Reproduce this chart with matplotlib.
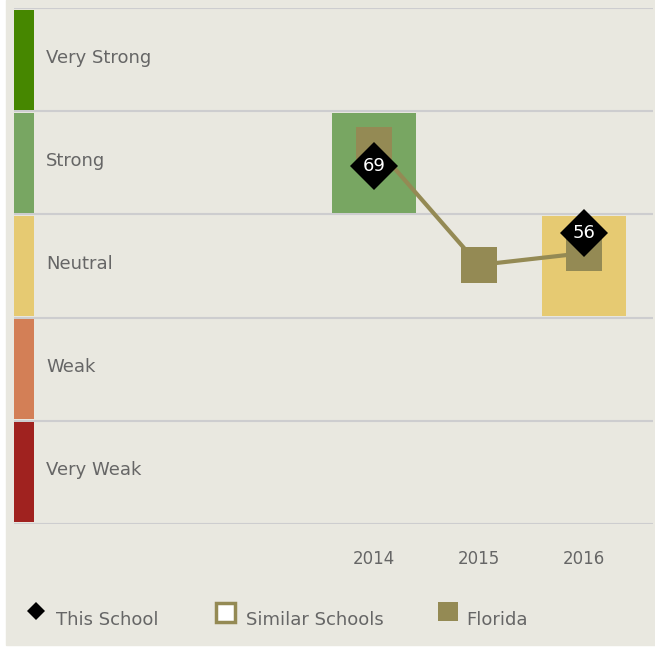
import matplotlib.pyplot as plt
from matplotlib.patches import Rectangle
from matplotlib.transforms import blended_transform_factory

# performance bands (score 0-100, 20 points each), top to bottom
levels = ["Very Strong", "Strong", "Neutral", "Weak", "Very Weak"]
level_colors = ["#468700", "#78a662", "#e6ca72", "#d37f56", "#a0221f"]
level_bottoms = [80, 60, 40, 20, 0]

years = ["2014", "2015", "2016"]
school_scores = [69, None, 56]
florida_scores = [73.5, 50.2, 52.5]

bg = "#e9e8e0"
olive = "#948a54"
grid_col = "#cdcdcf"
text_col = "#666666"

W, H = 655, 649
fig = plt.figure(figsize=(W / 100, H / 100), dpi=100, facecolor="white")
fig.patches.append(Rectangle((6 / W, 4 / H), 1 - 6 / W, 1 - 4 / H,
                             transform=fig.transFigure, color=bg, zorder=-10))

ax = fig.add_axes([14 / W, (H - 524) / H, (653 - 14) / W, (524 - 8) / H])
ax.patch.set_alpha(0)
for s in ax.spines.values():
    s.set_visible(False)
ax.set_xlim(-3.43, 2.66)
ax.set_ylim(0, 100)
ax.set_xticks([])
ax.set_yticks([])

x = list(range(len(years)))
trans = blended_transform_factory(ax.transAxes, ax.transData)

# grid lines between bands
for yv in [0, 20, 40, 60, 80, 100]:
    ax.axhline(yv, color=grid_col, lw=1.5, zorder=1)

# left colour strip and band labels
for name, col, b in zip(levels, level_colors, level_bottoms):
    ax.add_patch(Rectangle((0, b + 0.3), 20 / 639, 19.4, transform=trans,
                           color=col, zorder=2, lw=0))
    ax.text(32 / 639, b + 10.4, name, transform=trans, ha="left", va="center",
            fontsize=13, color=text_col)

# band rectangle for this school's level each year
for xi, v in zip(x, school_scores):
    if v is None:
        continue
    b = int(v // 20) * 20
    col = level_colors[4 - int(v // 20)]
    ax.add_patch(Rectangle((xi - 0.4, b + 0.3), 0.8, 19.4, color=col,
                           zorder=2, lw=0))

# Florida line + squares
ax.plot(x, florida_scores, color=olive, lw=3, zorder=3)
ax.plot(x, florida_scores, "s", color=olive, ms=26, mew=0, zorder=4)

# this school diamonds
for xi, v in zip(x, school_scores):
    if v is None:
        continue
    ax.plot(xi, v + 0.4, "D", color="black", ms=24, mew=0, zorder=5)
    ax.text(xi, v + 0.4, str(v), ha="center", va="center", color="white",
            fontsize=13, zorder=6)

# year labels
for xi, yr in zip(x, years):
    ax.text(xi, -6.8, yr, ha="center", va="center", fontsize=12,
            color=text_col, clip_on=False)

# legend
fig.text(56 / W, 1 - 620 / H, "This School", ha="left", va="center",
         fontsize=13, color=text_col)
fig.text(246 / W, 1 - 620 / H, "Similar Schools", ha="left", va="center",
         fontsize=13, color=text_col)
fig.text(466 / W, 1 - 620 / H, "Florida", ha="left", va="center",
         fontsize=13, color=text_col)
fig.lines.append(plt.Line2D([36 / W], [1 - 611 / H], marker="D", ms=9.5,
                            color="black", mew=0, transform=fig.transFigure))
fig.patches.append(Rectangle((215.5 / W, 1 - 621.5 / H), 19 / W, 19 / H,
                             transform=fig.transFigure, facecolor="white",
                             edgecolor=olive, lw=2.5))
fig.patches.append(Rectangle((438 / W, 1 - 621 / H), 20 / W, 19 / H,
                             transform=fig.transFigure, color=olive, lw=0))

fig.savefig("out.png", dpi=100, facecolor="white")
